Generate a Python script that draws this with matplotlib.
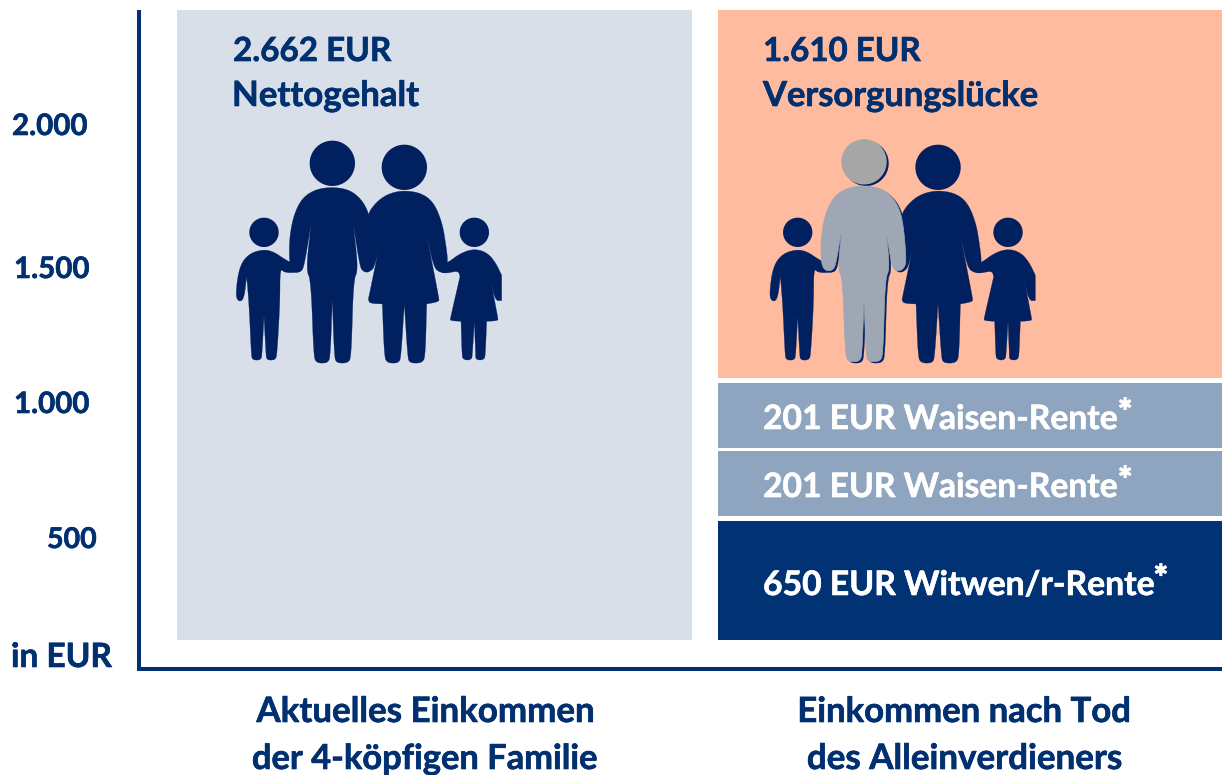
import matplotlib
matplotlib.use("Agg")
import matplotlib.pyplot as plt
from matplotlib.patches import Polygon
import matplotlib.patheffects as pe
import numpy as np

W, H = 1222, 775
NAVY = "#003070"
ICON = "#002060"
plt.rcParams['font.family'] = ['Lato', 'DejaVu Sans']

# data
categories = ["Aktuelles Einkommen\nder 4-köpfigen Familie", "Einkommen nach Tod\ndes Alleinverdieners"]
y_tick_labels = ["2.000", "1.500", "1.000", "500", "in EUR"]
left_amount = 2662
right_amounts = [650, 201, 201, 1610]
right_names = ["Witwen/r-Rente", "Waisen-Rente", "Waisen-Rente", "Versorgungslücke"]
# bar heights as read against the printed axis (the source is not to scale)
left_height = 2281
right_heights = [431, 235, 235, 1332]
right_gaps = [18, 11, 18, 0]
base_level = 127
right_colors = ["#003274", "#8EA4BF", "#8EA4BF", "#FFBBA0"]

fig = plt.figure(figsize=(W / 100, H / 100), dpi=100, facecolor="white")
ax = fig.add_axes([139 / W, 1 - 669 / H, (W - 139) / W, (669 - 10) / H])
EUR_PER_PX = 3.62
UNIT = 541.0
ax.set_ylim((675 - 669) * EUR_PER_PX, (675 - 10) * EUR_PER_PX)
ax.set_xlim((139 - 434.5) / UNIT, (1222 - 434.5) / UNIT)
ax.patch.set_alpha(0)
for s in ("top", "right"):
    ax.spines[s].set_visible(False)
for s in ("left", "bottom"):
    ax.spines[s].set_linewidth(2.9)
    ax.spines[s].set_color(NAVY)
ax.spines["left"].set_capstyle("butt")
ax.set_xticks([])
ax.set_yticks([])

bw = 515 / UNIT
ax.bar(0, left_height, bw, bottom=base_level, color="#D9DFE9", linewidth=0)
b = base_level
for h, g, c in zip(right_heights, right_gaps, right_colors):
    ax.bar(1, h, bw, bottom=b, color=c, linewidth=0)
    b += h + g

renderer = fig.canvas.get_renderer()


def put(s, x, y, width, color=NAVY, ha="left", **kw):
    t = fig.text(x / W, 1 - y / H, s, color=color, ha=ha, va="baseline",
                 fontweight="bold", fontsize=20, **kw)
    w = t.get_window_extent(renderer).width
    t.set_fontsize(20 * width / w)
    t.set_path_effects([pe.withStroke(linewidth=0.45, foreground=color)])
    return t


def star(t, color):
    e = t.get_window_extent(renderer)
    s = fig.text((e.x1 + 0) / W, (e.y1 + 5) / H, "*", color=color,
                 ha="left", va="top", fontweight="bold", fontsize=25)
    s.set_path_effects([pe.withStroke(linewidth=0.9, foreground=color)])


# headline texts
put(f"{left_amount:,}".replace(",", ".") + " EUR", 233, 61, 158)
put("Nettogehalt", 232, 106, 187)
put(f"{right_amounts[3]:,}".replace(",", ".") + " EUR", 763, 61, 158)
put(right_names[3], 763, 106, 275)

t = put(f"{right_amounts[2]} EUR {right_names[2]}", 763, 429, 355, color="white")
star(t, "white")
t = put(f"{right_amounts[1]} EUR {right_names[1]}", 763, 497, 355, color="white")
star(t, "white")
t = put(f"{right_amounts[0]} EUR {right_names[0]}", 763, 595, 392, color="white")
star(t, "white")

# axis labels
for s, x, y, w in zip(y_tick_labels, [12, 14, 14, 47, 11], [135, 278, 413, 548, 667], [76, 76, 76, 50, 101]):
    put(s, x, y, w)

# category labels
for (a, b_), (cx, wa, wb) in zip([c.split("\n") for c in categories], [(425, 338, 346), (964, 333, 316)]):
    put(a, cx, 722, wa, ha="center")
    put(b_, cx, 769, wb, ha="center")

# ---- family pictogram, outlines in pictogram units; a repeated point keeps a corner sharp
man = [(320,171),(370,178),(405,203),(428,240),(440,290),(449,395),(443,418),(428,428),(412,423),(404,405),(385,285),(385,285),(400,420),(385,450),(379,680),(370,697),(352,700),(334,697),(328,680),(322,510),(322,510),(316,680),(309,697),(292,700),(274,697),(266,680),(258,450),(243,420),(258,285),(258,285),(238,405),(230,423),(215,428),(200,421),(193,395),(193,325),(206,255),(232,203),(272,178)]
woman = [(538,181),(592,190),(628,220),(652,280),(662,340),(669,395),(662,420),(645,428),(626,412),(605,315),(605,315),(642,505),(642,515),(605,522),(605,522),(601,680),(592,697),(572,700),(553,697),(548,680),(538,522),(538,522),(528,680),(522,697),(505,700),(486,697),(478,680),(472,522),(472,522),(434,520),(430,508),(430,508),(470,315),(470,315),(449,414),(432,424),(423,300),(428,250),(458,212),(493,190)]
boy = [(117,358),(147,366),(172,383),(197,398),(232,403),(232,422),(215,428),(178,428),(165,414),(165,517),(156,675),(151,688),(138,691),(125,688),(123,675),(117,560),(117,560),(111,675),(108,688),(95,691),(82,688),(79,675),(72,522),(65,440),(65,440),(57,507),(42,516),(31,497),(43,408),(73,370)]
girl = [(748,356),(787,368),(812,398),(830,436),(830,436),(830,512),(830,512),(810,512),(795,440),(795,440),(819,565),(819,572),(785,574),(785,574),(781,675),(778,687),(765,691),(752,687),(752,675),(748,577),(748,577),(742,675),(740,687),(727,691),(714,687),(711,675),(708,574),(708,574),(676,572),(676,565),(705,440),(705,440),(700,422),(665,430),(643,427),(630,403),(665,401),(705,370)]
heads = [(322, 100, 68), (538, 112, 68), (117, 307, 44), (748, 307, 44)]


def smooth(pts, n=3):
    p = np.array(pts, float)
    for _ in range(n):
        q = np.roll(p, -1, axis=0)
        p = np.column_stack([0.75 * p + 0.25 * q, 0.25 * p + 0.75 * q]).reshape(-1, 2)
    return [tuple(r) for r in p]


def to_fig(pts, ox, oy):
    return [((ox + x / 3) / W, 1 - (oy + y / 3) / H) for x, y in pts]


def head(cx, cy, r, ox, oy, color, z=5):
    ang = np.linspace(0, 2 * np.pi, 80)
    pts = list(zip(cx + r * np.cos(ang), cy + r * np.sin(ang)))
    fig.add_artist(Polygon(to_fig(pts, ox, oy), closed=True, transform=fig.transFigure,
                           facecolor=color, edgecolor="none", zorder=z))


def family(ox, oy, ghost=False):
    for shape in (boy, girl, woman, man):
        fig.add_artist(Polygon(to_fig(smooth(shape), ox, oy), closed=True, transform=fig.transFigure,
                               facecolor=ICON, edgecolor=ICON, linewidth=0.2, joinstyle="round", zorder=5))
    for cx, cy, r in heads:
        head(cx, cy, r, ox, oy, ICON)
    if ghost:
        fig.add_artist(Polygon(to_fig(smooth(man), ox - 2, oy - 1.5), closed=True, transform=fig.transFigure,
                               facecolor="#9FA7B4", edgecolor="#9FA7B4", linewidth=0.5, joinstyle="round", zorder=6))
        head(322, 100, 68, ox - 2, oy - 1.5, "#A6A6A6", z=6)


family(225, 130)
family(758.7, 130, ghost=True)

fig.savefig("out.png", dpi=100, facecolor="white")
